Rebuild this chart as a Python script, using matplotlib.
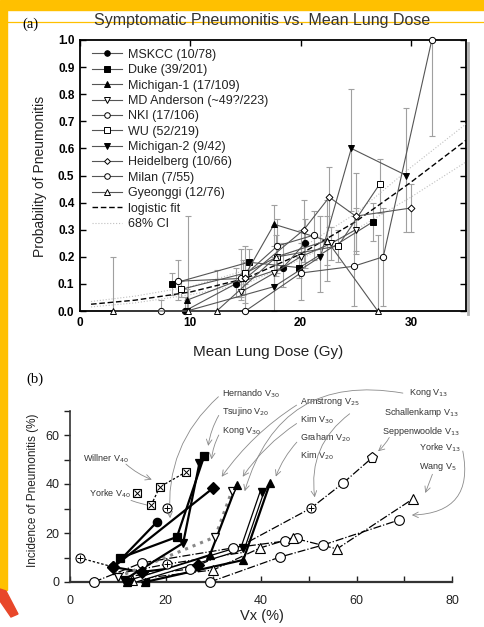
import matplotlib.pyplot as plt
import numpy as np
from matplotlib.lines import Line2D
from matplotlib.patches import Rectangle, Polygon

plt.rcParams['font.family'] = ['Liberation Sans', 'DejaVu Sans']

# ---------------- panel (a): MLD vs probability ----------------
mskcc_x = [9.5, 14.1, 18.4, 20.4]
mskcc_y = [0.00, 0.10, 0.16, 0.25]
mskcc_lo = [0.00, 0.05, 0.09, 0.16]
mskcc_hi = [0.05, 0.16, 0.25, 0.34]

duke_x = [8.3, 15.3, 19.9, 26.6]
duke_y = [0.10, 0.18, 0.16, 0.33]
duke_lo = [0.06, 0.13, 0.12, 0.26]
duke_hi = [0.14, 0.23, 0.20, 0.40]

mich1_x = [9.7, 14.8, 17.6, 22.4]
mich1_y = [0.04, 0.12, 0.32, 0.26]
mich1_lo = [0.01, 0.06, 0.24, 0.17]
mich1_hi = [0.08, 0.19, 0.39, 0.35]

mda_x = [14.6, 17.6, 20.0, 22.8, 25.0]
mda_y = [0.07, 0.14, 0.20, 0.25, 0.30]
mda_lo = [0.04, 0.10, 0.15, 0.19, 0.22]
mda_hi = [0.11, 0.19, 0.25, 0.31, 0.38]

nki_x = [8.9, 14.6, 17.9, 21.2]
nki_y = [0.11, 0.12, 0.24, 0.28]
nki_lo = [0.04, 0.05, 0.14, 0.19]
nki_hi = [0.19, 0.23, 0.34, 0.37]

wu_x = [9.2, 15.0, 17.9, 23.4, 27.2]
wu_y = [0.08, 0.14, 0.20, 0.24, 0.47]
wu_lo = [0.05, 0.10, 0.15, 0.18, 0.36]
wu_hi = [0.11, 0.18, 0.25, 0.30, 0.56]

mich2_x = [9.7, 17.6, 21.8, 24.6, 29.6]
mich2_y = [0.00, 0.09, 0.20, 0.60, 0.50]
mich2_lo = [0.00, 0.00, 0.07, 0.37, 0.29]
mich2_hi = [0.04, 0.20, 0.35, 0.82, 0.75]

heid_x = [15.0, 20.3, 22.6, 25.0, 30.0]
heid_y = [0.12, 0.30, 0.42, 0.35, 0.38]
heid_lo = [0.03, 0.18, 0.31, 0.21, 0.29]
heid_hi = [0.24, 0.41, 0.53, 0.51, 0.47]

milan_x = [7.3, 15.0, 20.0, 24.8, 27.5, 31.9]
milan_y = [0.00, 0.00, 0.14, 0.165, 0.20, 1.00]
milan_lo = [0.00, 0.00, 0.04, 0.02, 0.02, 0.645]
milan_hi = [0.04, 0.13, 0.30, 0.35, 0.38, 1.00]

gyeo_x = [3.0, 9.8, 12.4, 17.8, 22.4, 27.0]
gyeo_y = [0.00, 0.00, 0.00, 0.20, 0.26, 0.00]
gyeo_lo = [0.00, 0.00, 0.00, 0.13, 0.11, 0.00]
gyeo_hi = [0.20, 0.35, 0.15, 0.28, 0.41, 0.28]

fit_x = [1, 5, 10, 15, 20, 25, 30, 35]
fit_y = [0.025, 0.04, 0.07, 0.12, 0.21, 0.33, 0.475, 0.63]
ci_hi = [0.035, 0.055, 0.09, 0.15, 0.23, 0.36, 0.53, 0.69]
ci_lo = [0.015, 0.03, 0.06, 0.10, 0.19, 0.30, 0.42, 0.55]

labels_a = ['MSKCC (10/78)', 'Duke (39/201)', 'Michigan-1 (17/109)',
            'MD Anderson (~49?/223)', 'NKI (17/106)', 'WU (52/219)',
            'Michigan-2 (9/42)', 'Heidelberg (10/66)', 'Milan (7/55)',
            'Gyeonggi (12/76)', 'logistic fit', '68% CI']

# ---------------- panel (b): Vx vs incidence ----------------
hern_x, hern_y = [10.5, 22.4, 28.1], [9.8, 18.4, 51.4]
tsuj_x, tsuj_y = [11.3, 23.7, 27.1], [0.8, 15.9, 48.5]
kong30_x, kong30_y = [9.1, 30.0], [6.1, 38.4]
circ_x, circ_y = [9.1, 18.2], [6.1, 24.5]
arm_x, arm_y = [12.0, 29.3, 34.9], [0.0, 11.0, 39.6]
kim30_x, kim30_y = [12.5, 36.2, 40.2], [0.0, 14.0, 36.7]
kim20_x, kim20_y = [15.7, 36.3, 41.9], [0.0, 9.0, 40.4]
diam_x, diam_y = [9.1, 15.0, 26.8], [6.1, 4.1, 6.9]
grah_x, grah_y = [10.0, 30.4, 33.9], [2.0, 18.4, 37.1]

willner_x, willner_y = [17.0, 18.8, 24.3], [31.4, 38.8, 44.9]
oplus_x, oplus_y = [2.1, 9.1], [9.8, 6.1]
oplus2_x, oplus2_y = [9.0, 20.3, 36.0], [3.0, 7.3, 12.0]
oplus_single_x, oplus_single_y = [20.3], [30.2]
yorke_x, yorke_y = [5.0, 15.0, 34.1, 45.0, 47.5], [0.0, 7.8, 13.9, 16.7, 18.0]
yorke13_x, yorke13_y = [29.3, 44.0, 53.0, 68.9], [0.0, 10.2, 15.1, 25.3]
wang_x, wang_y = [13.0, 30.0, 39.8, 46.7, 55.9, 71.8], [1.0, 4.9, 13.9, 18.0, 13.5, 33.9]
sepp_x, sepp_y = [11.0, 25.1, 34.1, 50.5, 57.2, 63.2], [2.0, 5.3, 13.0, 30.2, 40.4, 50.6]

W, H = 484, 627
fig = plt.figure(figsize=(W / 100, H / 100), dpi=100)
fig.patch.set_facecolor('white')


def add_ax(l, t, r, b):
    return fig.add_axes([l / W, 1 - b / H, (r - l) / W, (b - t) / H])


# slide decoration
fig.patches.append(Rectangle((0, 1 - 10 / H), 1, 10 / H, transform=fig.transFigure,
                             color='#FFC000', zorder=0))
fig.patches.append(Rectangle((0, 1 - 590 / H), 7 / W, 580 / H, transform=fig.transFigure,
                             color='#FFC000', zorder=0))
wedge = [(0, 589), (6, 591), (18, 614), (11, 617), (0, 601)]
fig.patches.append(Polygon([(px / W, 1 - py / H) for px, py in wedge], closed=True,
                           transform=fig.transFigure, color='#E8472A', zorder=0))
fig.lines.append(Line2D([8 / W, 1], [1 - 22 / H, 1 - 22 / H], transform=fig.transFigure,
                        color='#FFC000', lw=0.9))

# ===== panel (a) =====
axa = add_ax(80, 40, 466, 311)
sty = [('o', 'black'), ('s', 'black'), ('^', 'black'), ('v', 'white'), ('o', 'white'),
       ('s', 'white'), ('v', 'black'), ('D', 'white'), ('o', 'white'), ('^', 'white')]
data_a = [(mskcc_x, mskcc_y, mskcc_lo, mskcc_hi), (duke_x, duke_y, duke_lo, duke_hi),
          (mich1_x, mich1_y, mich1_lo, mich1_hi), (mda_x, mda_y, mda_lo, mda_hi),
          (nki_x, nki_y, nki_lo, nki_hi), (wu_x, wu_y, wu_lo, wu_hi),
          (mich2_x, mich2_y, mich2_lo, mich2_hi), (heid_x, heid_y, heid_lo, heid_hi),
          (milan_x, milan_y, milan_lo, milan_hi), (gyeo_x, gyeo_y, gyeo_lo, gyeo_hi)]

handles = []
for (x, y, lo, hi), (mk, face) in zip(data_a, sty):
    y, lo, hi = np.array(y), np.array(lo), np.array(hi)
    ms = 3.5 if mk == 'D' else 4.5
    axa.errorbar(x, y, yerr=[y - lo, hi - y], fmt='none', ecolor='#a0a0a0',
                 elinewidth=0.8, capsize=2.5, capthick=0.8, zorder=2, clip_on=False)
    axa.plot(x, y, color='#555555', lw=0.8, marker=mk, ms=ms, mfc=face, mec='black',
             mew=0.7, zorder=4, clip_on=False)
    handles.append(Line2D([], [], color='#555555', lw=0.8, marker=mk, ms=ms - 0.5,
                          mfc=face, mec='black', mew=0.7))

axa.plot(fit_x, fit_y, color='black', lw=1.0, ls='--', dashes=(4, 2), zorder=3)
axa.plot(fit_x, ci_hi, color='#c0c0c0', lw=0.8, ls=':', zorder=3)
axa.plot(fit_x, ci_lo, color='#c0c0c0', lw=0.8, ls=':', zorder=3)
handles.append(Line2D([], [], color='black', lw=1.0, ls='--', dashes=(4, 2)))
handles.append(Line2D([], [], color='#c0c0c0', lw=0.8, ls=':'))

leg = axa.legend(handles, labels_a, loc='upper left', bbox_to_anchor=(0.012, 0.995),
                 frameon=False, fontsize=9, handlelength=2.4, handletextpad=0.5,
                 labelspacing=0.27, borderaxespad=0.2)
for t in leg.get_texts():
    t.set_color('#222222')

axa.set_xlim(0, 35)
axa.set_ylim(0, 1.0)
axa.set_xticks([0, 10, 20, 30])
axa.set_yticks(np.arange(0, 1.01, 0.1))
axa.set_yticklabels(['%.1f' % v for v in np.arange(0, 1.01, 0.1)])
axa.tick_params(axis='y', left=True, right=True, direction='in', length=4, width=1,
                labelsize=8.5, pad=4)
axa.tick_params(axis='x', top=True, bottom=False, direction='in', length=4, width=1,
                labelsize=8.5, pad=4)
for lab in axa.get_xticklabels() + axa.get_yticklabels():
    lab.set_fontweight('bold')
for s in axa.spines.values():
    s.set_linewidth(1.3)
axa.plot([1.006, 1.006], [-0.012, 0.99], transform=axa.transAxes, color='#b0b0b0',
         lw=2, clip_on=False)

fig.text(30 / W, 1 - 24 / H, '(a)', family='Liberation Serif', fontsize=10.5,
         ha='center', va='center')
fig.text(262 / W, 1 - 20 / H, 'Symptomatic Pneumonitis vs. Mean Lung Dose',
         fontsize=11.5, ha='center', va='center', color='#333333')
fig.text(40 / W, 1 - 176 / H, 'Probability of Pneumonitis', rotation=90,
         fontsize=10, ha='center', va='center', color='#222222')
fig.text(268 / W, 1 - 352 / H, 'Mean Lung Dose (Gy)', fontsize=11,
         ha='center', va='center', color='#222222')

# ===== panel (b) =====
axb = add_ax(70, 410.5, 452, 582)
axb.set_xlim(0, 80)
axb.set_ylim(0, 70)
for s in ['top', 'right']:
    axb.spines[s].set_visible(False)
axb.spines['left'].set_linewidth(1.2)
axb.spines['bottom'].set_linewidth(1.6)
axb.spines['left'].set_color('#333333')
axb.spines['bottom'].set_color('#333333')
axb.set_xticks([0, 20, 40, 60, 80])
axb.set_xticks([10, 30, 50, 70], minor=True)
axb.set_yticks([0, 20, 40, 60])
axb.set_yticks([10, 30, 50, 70], minor=True)
axb.tick_params(axis='y', which='both', direction='out', length=4, width=1,
                labelsize=9, colors='#222222')
axb.tick_params(axis='x', which='both', direction='in', length=4, width=1,
                labelsize=9, colors='#222222', pad=9)


def thick(x, y, mk, face='black', ls='-', lw=1.6, col='black', first=None):
    axb.plot(x, y, color=col, lw=lw, ls=ls, zorder=4, clip_on=False)
    axb.plot(x, y, ls='none', marker=mk, ms=6, mfc=face, mec='black', mew=0.9,
             zorder=6, clip_on=False)
    if first:
        axb.plot(x[:1], y[:1], ls='none', marker=first, ms=6, mfc=face, mec='black',
                 zorder=7, clip_on=False)


def thin(x, y, mk, ls='-.', ms=7):
    axb.plot(x, y, color='black', lw=0.9, ls=ls, zorder=3, clip_on=False)
    if mk:
        axb.plot(x, y, ls='none', marker=mk, ms=ms, mfc='white', mec='black',
                 mew=0.8, zorder=5, clip_on=False)


def crossed(x, y, base, cross, ms=6.5):
    axb.plot(x, y, ls='none', marker=base, ms=ms, mfc='white', mec='black', mew=0.8,
             zorder=6, clip_on=False)
    axb.plot(x, y, ls='none', marker=cross, ms=ms * 0.75, mec='black', mew=0.7,
             zorder=7, clip_on=False)


# dash-dot / dotted thin series
thin(yorke_x, yorke_y, 'o')
thin(yorke13_x, yorke13_y, 'o')
thin(wang_x, wang_y, '^')
thin(sepp_x[:-1], sepp_y[:-1], None)
thin(sepp_x[-2:], sepp_y[-2:], None)
axb.plot([sepp_x[1], sepp_x[4]], [sepp_y[1], sepp_y[4]], ls='none', marker='o', ms=7,
         mfc='white', mec='black', mew=0.8, zorder=5)
axb.plot(sepp_x[-1:], sepp_y[-1:], ls='none', marker='p', ms=8, mfc='white',
         mec='black', mew=0.8, zorder=5)
crossed([sepp_x[3]], [sepp_y[3]], 'o', '+')
thin(oplus2_x, oplus2_y, None)
crossed(oplus2_x[1:2], oplus2_y[1:2], 'o', '+')
axb.plot(oplus_x, oplus_y, color='black', lw=0.9, ls=(0, (2, 1.5)), zorder=3, clip_on=False)
crossed(oplus_x[:1], oplus_y[:1], 'o', '+')
crossed(oplus_single_x, oplus_single_y, 'o', '+')
axb.plot(willner_x, willner_y, color='black', lw=0.9, ls=(0, (2, 1.5)), zorder=3)
crossed(willner_x, willner_y, 's', 'x', ms=5.5)

# thick solid series
thick(diam_x, diam_y, 'D', lw=1.6)
thick(grah_x, grah_y, 'v', face='white', ls=':', lw=2.2, col='#888888')
thick(circ_x, circ_y, 'o')
thick(kong30_x, kong30_y, 'D')
thick(arm_x, arm_y, '^')
axb.plot(kim30_x, kim30_y, color='black', lw=3.6, zorder=4)
axb.plot(kim30_x, kim30_y, color='white', lw=1.8, zorder=4)
axb.plot(kim30_x, kim30_y, ls='none', marker='v', ms=6, mfc='black', mec='black',
         zorder=6, clip_on=False)
thick(kim20_x, kim20_y, '^', first='<')
thick(hern_x, hern_y, 's')
thick(tsuj_x, tsuj_y, 'v')

# labels with arrows
tk = dict(fontsize=6.5, color='#333333', va='center')
ap = dict(arrowstyle='->', color='#8a8a8a', lw=0.6, shrinkA=1, shrinkB=1)
notes = [
    ('Hernando V$_{30}$', (31.8, 76.7), 'left', (31.3, 76.0), (21.0, 25.5), 0.25),
    ('Tsujino V$_{20}$', (31.8, 69.4), 'left', (31.3, 68.5), (28.9, 55.0), 0.1),
    ('Kong V$_{30}$', (31.8, 61.6), 'left', (31.3, 60.5), (29.6, 49.5), 0.1),
    ('Armstrong V$_{25}$', (48.2, 73.5), 'left', (47.7, 72.5), (31.6, 42.5), 0.1),
    ('Kim V$_{30}$', (48.2, 66.1), 'left', (47.7, 65.0), (36.0, 42.5), 0.1),
    ('Graham V$_{20}$', (48.2, 58.8), 'left', (47.7, 57.5), (43.0, 42.5), 0.1),
    ('Kim V$_{20}$', (48.2, 51.4), None, None, None, 0),
    ('Kong V$_{13}$', (79.2, 77.0), 'right', (70.0, 77.0), (36.5, 36.5), 0.45),
    ('Schallenkamp V$_{13}$', (81.3, 69.0), 'right', (58.8, 69.0), (51.3, 34.0), 0.3),
    ('Seppenwoolde V$_{13}$', (81.7, 61.6), 'right', (67.0, 59.5), (64.3, 53.0), -0.1),
    ('Yorke V$_{13}$', (81.7, 54.7), 'right', (82.2, 54.0), (71.3, 27.3), -0.6),
    ('Wang V$_{5}$', (81.0, 47.0), 'right', (76.0, 44.5), (74.3, 35.8), 0.0),
    ('Willner V$_{40}$', (2.8, 50.2), 'left', (11.5, 48.5), (17.4, 41.6), 0.1),
    ('Yorke V$_{40}$', (3.9, 36.0), 'left', (12.5, 33.5), (18.2, 30.6), 0.05),
]
for text, pos, ha, a0, a1, rad in notes:
    axb.text(pos[0], pos[1], text, ha=ha or 'left', clip_on=False, **tk)
    if a0 is not None:
        axb.annotate('', xy=a1, xytext=a0, annotation_clip=False,
                     arrowprops=dict(connectionstyle='arc3,rad=%g' % rad, **ap))
crossed([14.0], [36.3], 's', 'x', ms=5.5)

fig.text(35 / W, 1 - 379 / H, '(b)', family='Liberation Serif', fontsize=10.5,
         ha='center', va='center')
fig.text(33 / W, 1 - 490 / H, 'Incidence of Pneumonitis (%)', rotation=90,
         fontsize=8.5, ha='center', va='center', color='#222222')
fig.text(262 / W, 1 - 616 / H, 'Vx (%)', fontsize=10.5, ha='center', va='center',
         color='#222222')

fig.savefig('out.png', dpi=100)
